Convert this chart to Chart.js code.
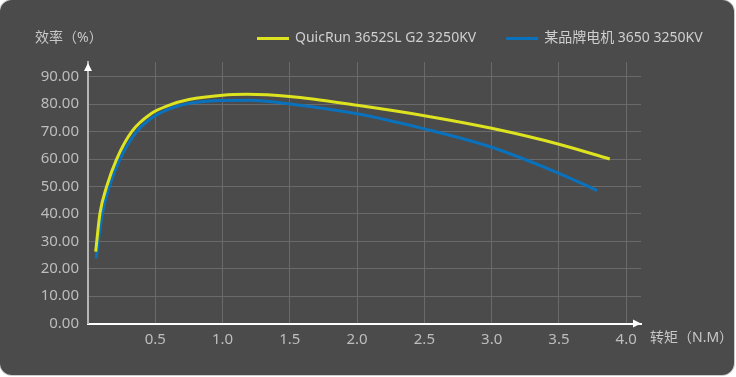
<!DOCTYPE html>
<html>
<head>
<meta charset="utf-8">
<script src="https://cdn.jsdelivr.net/npm/chart.js@4/dist/chart.umd.min.js"></script>
<style>
  body { margin: 0; background: #ffffff; }
  #card {
    position: absolute; left: 0; top: 0;
    width: 734px; height: 375px;
    background: #4b4b4b;
    border-radius: 12px;
    box-shadow: 0 0 0 1px #cfcfcf;
    overflow: hidden;
  }
  canvas { position: absolute; left: 0; top: 0; }
</style>
</head>
<body>
<div id="card"><canvas id="chart1" width="734" height="375"></canvas></div>
<script>
// torque (N.M) and efficiency (%)
const torqueQR = [0.057, 0.089, 0.139, 0.213, 0.325, 0.473, 0.6, 0.75, 1.0, 1.18, 1.5, 2.0, 2.5, 3.0, 3.5, 3.878];
const effQR    = [26.2, 40.2, 50.0, 60.0, 70.0, 76.7, 79.6, 81.7, 83.3, 83.6, 82.8, 79.6, 75.8, 71.2, 65.4, 60.0];

const torqueOther = [0.06, 0.106, 0.158, 0.238, 0.362, 0.46, 0.6, 0.75, 1.0, 1.2, 1.5, 2.0, 2.5, 3.0, 3.5, 3.784];
const effOther    = [23.8, 40.0, 50.0, 60.0, 70.0, 74.5, 78.2, 80.3, 81.4, 81.45, 80.1, 76.5, 71.0, 64.3, 54.8, 48.5];

const seriesNames = ['QuicRun 3652SL G2 3250KV', '某品牌电机 3650 3250KV'];
const xTicks = [0.5, 1.0, 1.5, 2.0, 2.5, 3.0, 3.5, 4.0];
const yTicks = [0, 10, 20, 30, 40, 50, 60, 70, 80, 90];

const FONT = '"Noto Sans", "Noto Sans CJK SC", sans-serif';

function toPoints(xs, ys) {
  let pts = [];
  for (let i = 0; i < xs.length; i++) {
    pts.push({x: xs[i], y: ys[i]});
  }
  return pts;
}

// legend, axis captions and arrow heads
const decorations = {
  id: 'decorations',
  afterDraw(chart) {
    const c = chart.ctx;
    const area = chart.chartArea;
    c.save();

    // y axis arrow
    c.fillStyle = '#ffffff';
    c.beginPath();
    c.moveTo(area.left, area.top + 1);
    c.lineTo(area.left - 4, area.top + 9);
    c.lineTo(area.left + 4, area.top + 9);
    c.closePath();
    c.fill();

    // x axis arrow
    c.beginPath();
    c.moveTo(area.right, area.bottom);
    c.lineTo(area.right - 8, area.bottom - 4);
    c.lineTo(area.right - 8, area.bottom + 4);
    c.closePath();
    c.fill();

    c.font = '14px ' + FONT;
    c.textBaseline = 'middle';
    c.fillStyle = '#c8c8c8';
    c.textAlign = 'left';
    c.fillText('效率（%）', 35, 38);
    c.fillText('转矩（N.M）', area.right + 9, 338);

    // legend
    let x = 257;
    chart.data.datasets.forEach(function(ds) {
      c.fillStyle = ds.borderColor;
      c.fillRect(x, 37, 32, 3);
      c.fillStyle = '#cfcfcf';
      c.fillText(ds.label, x + 38, 38);
      x += 38 + c.measureText(ds.label).width + 30;
    });

    c.restore();
  }
};

const ctx = document.getElementById('chart1').getContext('2d');

const chart1 = new Chart(ctx, {
  type: 'line',
  data: {
    datasets: [{
      label: seriesNames[0],
      data: toPoints(torqueQR, effQR),
      borderColor: '#dde31f',
      borderWidth: 3,
      pointRadius: 0,
      cubicInterpolationMode: 'monotone'
    },
    {
      label: seriesNames[1],
      data: toPoints(torqueOther, effOther),
      borderColor: '#0a72bd',
      borderWidth: 3,
      pointRadius: 0,
      cubicInterpolationMode: 'monotone'
    }]
  },
  options: {
    responsive: false,
    animation: false,
    layout: {
      padding: {left: 0, top: 62, right: 93, bottom: 21.5}
    },
    plugins: {
      legend: {display: false},
      tooltip: {enabled: false}
    },
    scales: {
      x: {
        type: 'linear',
        min: 0,
        max: 4.11,
        afterBuildTicks: function(scale) {
          scale.ticks = xTicks.map(v => ({value: v}));
        },
        afterFit: function(scale) {
          scale.height = 30;
        },
        grid: {
          color: '#6a6a6a',
          lineWidth: 1,
          drawTicks: false
        },
        border: {
          color: '#ffffff',
          width: 2
        },
        ticks: {
          padding: 7,
          color: '#bdbdbd',
          font: {family: FONT, size: 15},
          callback: v => v.toFixed(1)
        }
      },
      y: {
        min: 0,
        max: 95.4,
        afterBuildTicks: function(scale) {
          scale.ticks = yTicks.map(v => ({value: v}));
        },
        afterFit: function(scale) {
          scale.width = 88;
        },
        grid: {
          color: '#6a6a6a',
          lineWidth: 1,
          drawTicks: false
        },
        border: {
          color: '#b4b4b4',
          width: 2
        },
        ticks: {
          padding: 9,
          color: '#bdbdbd',
          font: {family: FONT, size: 15},
          callback: v => v.toFixed(2)
        }
      }
    }
  },
  plugins: [decorations]
});
</script>
</body>
</html>
